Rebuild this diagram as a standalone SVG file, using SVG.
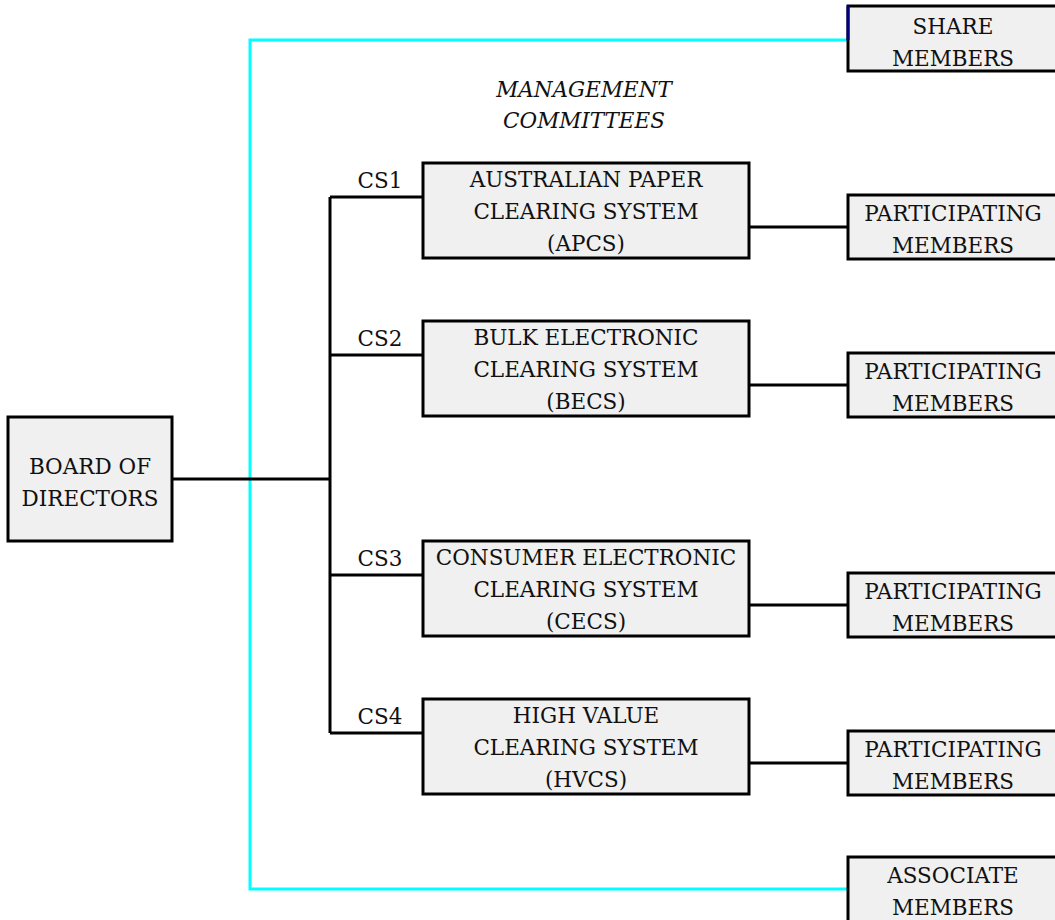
<svg xmlns="http://www.w3.org/2000/svg" width="1055" height="920" viewBox="0 0 1055 920">
<style>
.box{fill:#f0f0f0;stroke:#000;stroke-width:3}
.t{font-family:"DejaVu Serif","Liberation Serif",serif;font-size:21.5px;fill:#111;text-anchor:middle}
.it{font-style:italic}
.k{fill:none;stroke:#000;stroke-width:3}
.c{fill:none;stroke:#00ffff;stroke-width:3}
</style>
<rect width="1055" height="920" fill="#fff"/>
<g id="connectors">
<polyline class="c" points="848,40 250,40 250,889 848,889"/>
<line class="k" x1="172" y1="479" x2="330" y2="479"/>
<line class="k" x1="330" y1="197" x2="330" y2="733"/>
<line class="k" x1="330" y1="197" x2="423" y2="197"/>
<line class="k" x1="330" y1="355" x2="423" y2="355"/>
<line class="k" x1="330" y1="575" x2="423" y2="575"/>
<line class="k" x1="330" y1="733" x2="423" y2="733"/>
<line class="k" x1="749" y1="227" x2="848" y2="227"/>
<line class="k" x1="749" y1="385" x2="848" y2="385"/>
<line class="k" x1="749" y1="605" x2="848" y2="605"/>
<line class="k" x1="749" y1="763" x2="848" y2="763"/>
<text class="t" x="380" y="188">CS1</text>
<text class="t" x="380" y="346">CS2</text>
<text class="t" x="380" y="566">CS3</text>
<text class="t" x="380" y="724">CS4</text>
</g>
<g id="board">
<rect class="box" x="8" y="417" width="164" height="124"/>
<text class="t" x="90" y="474">BOARD OF</text>
<text class="t" x="90" y="506">DIRECTORS</text>
</g>
<g id="share">
<rect class="box" x="848" y="6" width="210" height="65"/>
<line x1="848" y1="6" x2="848" y2="40" stroke="#000080" stroke-width="3"/>
<text class="t" x="953" y="34">SHARE</text>
<text class="t" x="953" y="66">MEMBERS</text>
</g>
<g id="mgmt">
<text class="t it" x="584" y="97">MANAGEMENT</text>
<text class="t it" x="584" y="128">COMMITTEES</text>
</g>
<g id="apcs">
<rect class="box" x="423" y="163" width="326" height="95"/>
<text class="t" x="586" y="187">AUSTRALIAN PAPER</text>
<text class="t" x="586" y="219">CLEARING SYSTEM</text>
<text class="t" x="586" y="251">(APCS)</text>
</g>
<g id="becs">
<rect class="box" x="423" y="321" width="326" height="95"/>
<text class="t" x="586" y="345">BULK ELECTRONIC</text>
<text class="t" x="586" y="377">CLEARING SYSTEM</text>
<text class="t" x="586" y="409">(BECS)</text>
</g>
<g id="cecs">
<rect class="box" x="423" y="541" width="326" height="95"/>
<text class="t" x="586" y="565">CONSUMER ELECTRONIC</text>
<text class="t" x="586" y="597">CLEARING SYSTEM</text>
<text class="t" x="586" y="629">(CECS)</text>
</g>
<g id="hvcs">
<rect class="box" x="423" y="699" width="326" height="95"/>
<text class="t" x="586" y="723">HIGH VALUE</text>
<text class="t" x="586" y="755">CLEARING SYSTEM</text>
<text class="t" x="586" y="787">(HVCS)</text>
</g>
<g id="pm1">
<rect class="box" x="848" y="195" width="210" height="64"/>
<text class="t" x="953" y="221">PARTICIPATING</text>
<text class="t" x="953" y="253">MEMBERS</text>
</g>
<g id="pm2">
<rect class="box" x="848" y="353" width="210" height="64"/>
<text class="t" x="953" y="379">PARTICIPATING</text>
<text class="t" x="953" y="411">MEMBERS</text>
</g>
<g id="pm3">
<rect class="box" x="848" y="573" width="210" height="64"/>
<text class="t" x="953" y="599">PARTICIPATING</text>
<text class="t" x="953" y="631">MEMBERS</text>
</g>
<g id="pm4">
<rect class="box" x="848" y="731" width="210" height="64"/>
<text class="t" x="953" y="757">PARTICIPATING</text>
<text class="t" x="953" y="789">MEMBERS</text>
</g>
<g id="assoc">
<rect class="box" x="848" y="857" width="210" height="70"/>
<text class="t" x="953" y="883">ASSOCIATE</text>
<text class="t" x="953" y="915">MEMBERS</text>
</g>
</svg>
